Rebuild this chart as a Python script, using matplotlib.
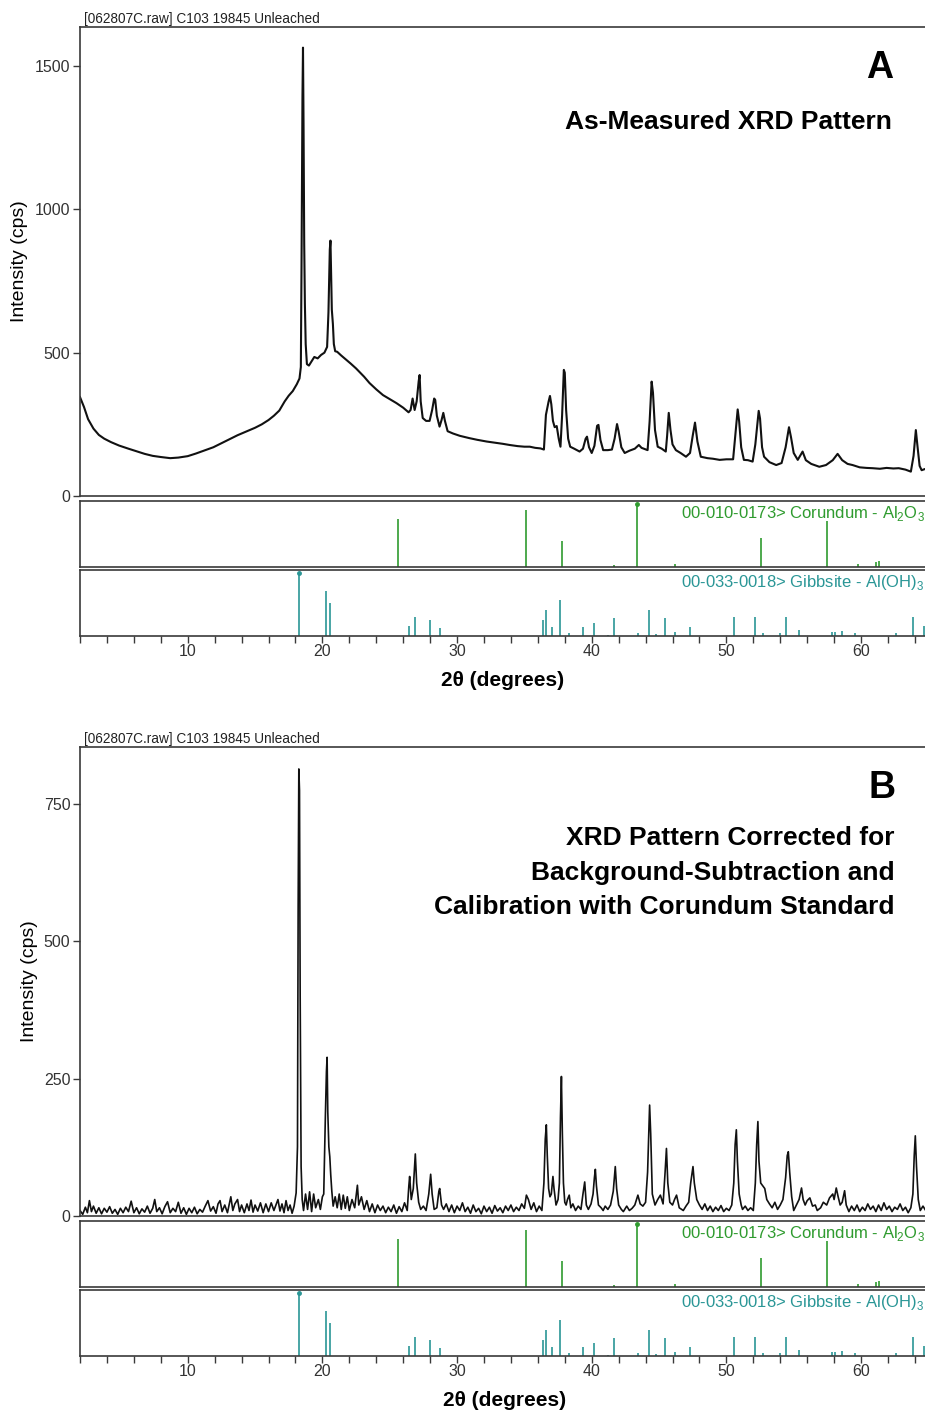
import numpy as np
import matplotlib.pyplot as plt

plt.rcParams["font.family"] = ["Liberation Sans", "DejaVu Sans"]
plt.rcParams["mathtext.fontset"] = "custom"
plt.rcParams["mathtext.rm"] = "Liberation Sans"

W, H = 925, 1416
HEADER = "[062807C.raw] C103 19845 Unleached"

# as-measured scan (2theta, cps)
scan_a = [
    (2.0, 345), (2.3, 310), (2.6, 268), (3.0, 235), (3.4, 213), (3.8, 200),
    (4.3, 188), (4.9, 176), (5.6, 165), (6.2, 156), (6.8, 147), (7.4, 140),
    (8.0, 136), (8.7, 132), (9.3, 134), (10.0, 139), (10.6, 148), (11.2, 158),
    (11.9, 170), (12.5, 184), (13.1, 198), (13.7, 212), (14.3, 224), (15.0, 238),
    (15.5, 250), (16.0, 265), (16.4, 280), (16.8, 298), (17.2, 330), (17.5, 350),
    (17.8, 366), (18.1, 390), (18.3, 410), (18.4, 450), (18.45, 800), (18.52, 1390),
    (18.56, 1564), (18.6, 1300), (18.65, 880), (18.7, 670), (18.76, 530), (18.85, 460),
    (19.0, 455), (19.2, 470), (19.4, 485), (19.65, 480), (19.9, 492), (20.15, 500),
    (20.35, 520), (20.45, 640), (20.55, 860), (20.6, 891), (20.65, 760), (20.7, 650),
    (20.78, 600), (20.85, 530), (20.95, 505), (21.1, 503), (21.4, 490), (21.7, 478),
    (22.1, 462), (22.5, 445), (23.1, 416), (23.5, 394), (24.0, 372), (24.5, 352),
    (25.0, 338), (25.5, 324), (26.0, 308), (26.4, 292), (26.55, 300), (26.7, 340),
    (26.85, 300), (27.0, 330), (27.15, 400), (27.22, 422), (27.3, 330), (27.45, 272),
    (27.7, 262), (27.96, 262), (28.15, 300), (28.3, 340), (28.38, 335), (28.5, 280),
    (28.7, 242), (28.85, 265), (28.98, 290), (29.1, 262), (29.3, 226), (29.7, 218),
    (30.2, 210), (30.9, 202), (31.5, 196), (32.2, 190), (32.8, 186), (33.4, 182),
    (33.9, 178), (34.5, 174), (35.0, 172), (35.4, 172), (35.8, 168), (36.2, 166),
    (36.45, 162), (36.6, 283), (36.8, 330), (36.9, 349), (37.0, 320), (37.12, 262),
    (37.25, 240), (37.4, 244), (37.55, 200), (37.68, 172), (37.8, 280), (37.93, 440),
    (38.0, 430), (38.1, 300), (38.25, 200), (38.4, 172), (38.7, 165), (39.1, 155),
    (39.35, 165), (39.55, 200), (39.65, 207), (39.8, 170), (40.0, 150), (40.2, 175),
    (40.4, 245), (40.5, 248), (40.65, 195), (40.85, 160), (41.2, 160), (41.5, 162),
    (41.7, 200), (41.88, 251), (42.0, 225), (42.2, 170), (42.45, 150), (42.8, 158),
    (43.2, 165), (43.5, 178), (43.7, 168), (44.15, 160), (44.3, 260), (44.45, 399),
    (44.55, 360), (44.7, 230), (44.9, 172), (45.2, 165), (45.5, 155), (45.6, 210),
    (45.72, 290), (45.85, 230), (46.0, 180), (46.25, 160), (46.6, 150), (47.0, 137),
    (47.3, 150), (47.5, 210), (47.67, 256), (47.85, 190), (48.1, 137), (48.6, 132),
    (49.0, 130), (49.5, 126), (50.0, 128), (50.5, 128), (50.7, 230), (50.84, 302),
    (50.95, 260), (51.1, 170), (51.3, 126), (51.6, 125), (51.95, 120), (52.15, 180),
    (52.4, 297), (52.5, 270), (52.65, 170), (52.8, 137), (53.2, 118), (53.7, 108),
    (54.1, 115), (54.4, 170), (54.65, 240), (54.8, 205), (55.0, 150), (55.3, 126),
    (55.66, 155), (55.9, 125), (56.3, 112), (56.9, 102), (57.4, 108), (57.9, 125),
    (58.26, 147), (58.6, 125), (59.0, 112), (59.37, 108), (59.9, 100), (60.4, 98),
    (60.85, 97), (61.4, 95), (61.9, 98), (62.4, 96), (62.8, 97), (63.3, 92),
    (63.7, 85), (63.9, 140), (64.07, 230), (64.2, 170), (64.35, 105), (64.5, 90),
    (64.8, 95),
]

# background-subtracted, calibrated scan (2theta, cps)
scan_b = [
    (2.0, 10), (2.2, 3), (2.4, 16), (2.55, 6), (2.7, 28), (2.85, 8), (3.0, 18),
    (3.2, 5), (3.4, 15), (3.6, 4), (3.8, 14), (4.0, 7), (4.2, 17), (4.4, 5),
    (4.6, 12), (4.8, 3), (5.0, 14), (5.2, 6), (5.4, 16), (5.6, 8), (5.8, 27),
    (6.0, 6), (6.2, 15), (6.4, 4), (6.6, 13), (6.8, 7), (7.0, 18), (7.2, 5),
    (7.4, 14), (7.55, 30), (7.7, 8), (7.9, 15), (8.1, 4), (8.3, 17), (8.5, 26),
    (8.7, 6), (8.9, 14), (9.1, 8), (9.3, 25), (9.5, 5), (9.7, 15), (9.9, 3),
    (10.1, 14), (10.3, 6), (10.5, 16), (10.7, 4), (10.9, 12), (11.1, 7), (11.3, 18),
    (11.5, 28), (11.7, 9), (11.9, 17), (12.1, 5), (12.25, 22), (12.4, 28), (12.55, 8),
    (12.75, 20), (12.95, 6), (13.1, 24), (13.2, 35), (13.35, 10), (13.5, 22), (13.7, 30),
    (13.85, 8), (14.0, 20), (14.2, 6), (14.4, 22), (14.55, 10), (14.7, 29), (14.85, 7),
    (15.0, 20), (15.2, 9), (15.4, 24), (15.6, 6), (15.8, 22), (16.0, 8), (16.2, 24),
    (16.4, 10), (16.55, 20), (16.7, 30), (16.85, 9), (17.0, 22), (17.15, 6), (17.3, 28),
    (17.45, 10), (17.6, 20), (17.75, 5), (17.9, 18), (18.05, 42), (18.15, 126),
    (18.2, 560), (18.25, 814), (18.3, 775), (18.35, 400), (18.42, 90), (18.5, 30),
    (18.6, 10), (18.75, 40), (18.9, 12), (19.05, 44), (19.2, 8), (19.35, 40),
    (19.5, 15), (19.7, 30), (19.85, 12), (20.0, 35), (20.1, 40), (20.22, 180),
    (20.3, 263), (20.35, 289), (20.4, 190), (20.48, 126), (20.55, 108), (20.62, 75),
    (20.7, 45), (20.8, 18), (20.95, 35), (21.1, 15), (21.25, 40), (21.4, 12),
    (21.55, 38), (21.7, 14), (21.85, 35), (22.0, 10), (22.2, 30), (22.4, 15),
    (22.6, 56), (22.7, 20), (22.9, 35), (23.1, 12), (23.3, 28), (23.5, 8),
    (23.7, 22), (23.9, 6), (24.1, 20), (24.3, 10), (24.5, 18), (24.7, 6),
    (24.9, 16), (25.1, 8), (25.3, 20), (25.5, 5), (25.7, 17), (25.9, 8),
    (26.1, 24), (26.3, 10), (26.42, 55), (26.48, 72), (26.6, 30), (26.75, 50),
    (26.9, 113), (27.0, 60), (27.15, 25), (27.3, 12), (27.5, 18), (27.7, 10),
    (27.9, 40), (28.04, 76), (28.15, 40), (28.3, 12), (28.5, 15), (28.65, 45),
    (28.71, 50), (28.85, 20), (29.0, 12), (29.2, 22), (29.4, 8), (29.6, 20),
    (29.8, 6), (30.0, 18), (30.2, 10), (30.4, 24), (30.6, 8), (30.8, 16),
    (31.0, 5), (31.2, 20), (31.4, 8), (31.6, 14), (31.8, 4), (32.0, 18),
    (32.2, 8), (32.4, 16), (32.6, 5), (32.8, 19), (33.0, 9), (33.2, 15),
    (33.4, 6), (33.6, 18), (33.8, 10), (34.0, 20), (34.2, 8), (34.4, 16),
    (34.6, 10), (34.8, 22), (35.0, 14), (35.15, 38), (35.3, 30), (35.5, 12),
    (35.7, 24), (35.9, 8), (36.1, 18), (36.3, 10), (36.45, 60), (36.55, 140),
    (36.63, 166), (36.7, 110), (36.8, 50), (36.9, 35), (37.0, 40), (37.12, 72),
    (37.2, 50), (37.35, 20), (37.5, 30), (37.6, 60), (37.68, 180), (37.75, 254),
    (37.82, 150), (37.9, 60), (38.0, 25), (38.1, 20), (38.2, 30), (38.33, 38),
    (38.45, 15), (38.6, 22), (38.8, 10), (39.0, 18), (39.2, 12), (39.35, 40),
    (39.48, 62), (39.6, 20), (39.75, 12), (39.95, 22), (40.1, 40), (40.2, 70),
    (40.27, 85), (40.35, 55), (40.5, 20), (40.7, 15), (40.85, 10), (41.0, 18),
    (41.2, 12), (41.4, 20), (41.6, 45), (41.75, 90), (41.85, 50), (42.0, 20),
    (42.2, 12), (42.35, 8), (42.6, 18), (42.8, 10), (43.0, 14), (43.2, 20),
    (43.43, 38), (43.6, 22), (43.8, 18), (44.0, 25), (44.15, 80), (44.3, 202),
    (44.38, 150), (44.5, 40), (44.7, 20), (44.9, 30), (45.1, 38), (45.3, 22),
    (45.45, 80), (45.55, 123), (45.65, 60), (45.8, 25), (46.0, 20), (46.15, 30),
    (46.3, 38), (46.5, 15), (46.8, 10), (47.0, 18), (47.2, 25), (47.35, 60),
    (47.52, 90), (47.62, 60), (47.8, 30), (48.0, 20), (48.2, 12), (48.4, 22),
    (48.6, 10), (48.8, 18), (49.0, 8), (49.2, 16), (49.4, 10), (49.6, 19),
    (49.8, 8), (50.0, 14), (50.2, 10), (50.4, 20), (50.55, 60), (50.65, 130),
    (50.74, 157), (50.82, 100), (50.95, 40), (51.1, 20), (51.2, 12), (51.4, 18),
    (51.6, 10), (51.8, 15), (52.0, 10), (52.15, 60), (52.25, 130), (52.34, 172),
    (52.42, 100), (52.55, 60), (52.7, 55), (52.85, 50), (53.0, 30), (53.2, 22),
    (53.4, 15), (53.6, 25), (53.8, 12), (54.0, 20), (54.2, 30), (54.4, 70),
    (54.52, 110), (54.6, 117), (54.7, 80), (54.85, 35), (55.0, 10), (55.2, 20),
    (55.4, 30), (55.58, 51), (55.7, 30), (55.85, 20), (56.0, 28), (56.2, 33),
    (56.4, 18), (56.6, 20), (56.75, 10), (57.0, 15), (57.2, 25), (57.45, 20),
    (57.66, 33), (57.9, 40), (58.0, 30), (58.16, 51), (58.3, 35), (58.45, 20),
    (58.6, 25), (58.78, 46), (58.9, 20), (59.1, 8), (59.3, 18), (59.5, 10),
    (59.7, 20), (59.9, 8), (60.1, 16), (60.3, 10), (60.5, 22), (60.7, 12),
    (60.9, 18), (61.1, 8), (61.3, 20), (61.5, 10), (61.7, 24), (61.9, 12),
    (62.1, 18), (62.3, 8), (62.5, 16), (62.7, 12), (62.9, 22), (63.1, 10),
    (63.3, 16), (63.5, 6), (63.7, 15), (63.85, 40), (63.95, 110), (64.03, 146),
    (64.12, 90), (64.25, 30), (64.4, 10), (64.6, 18), (64.8, 10),
]

# reference patterns (stick positions / relative intensity)
corundum_2theta = [25.58, 35.15, 37.78, 41.68, 43.36, 46.18, 52.55, 57.50, 59.74, 61.12, 61.30]
corundum_int = [77, 91, 42, 3, 100, 4, 46, 73, 5, 8, 9]

gibbsite_2theta = [18.27, 20.30, 20.55, 26.45, 26.90, 28.00, 28.72, 36.39, 36.64, 37.08,
                   37.67, 38.35, 39.35, 40.15, 41.21, 41.67, 43.41, 44.22, 44.78, 45.47,
                   46.19, 47.30, 50.58, 52.12, 52.72, 54.01, 54.45, 55.40, 57.86, 58.06,
                   58.58, 59.56, 62.58, 63.86, 64.65]
gibbsite_int = [100, 72, 52, 16, 31, 26, 13, 26, 41, 15,
                57, 4, 15, 21, 1, 29, 4, 41, 3, 29,
                7, 15, 31, 31, 5, 4, 31, 10, 7, 7,
                8, 4, 5, 31, 16]

CORUNDUM_LABEL = "00-010-0173> Corundum - Al$_\\mathregular{2}$O$_\\mathregular{3}$"
GIBBSITE_LABEL = "00-033-0018> Gibbsite - Al(OH)$_\\mathregular{3}$"

XLIM = (2.0, 64.75)
SPINE = "#3a3a3a"
TICK_TEXT = "#333333"
GREEN = "#2f9b2f"
TEAL = "#2a9696"


def box(left, top, right, bottom):
    return [left / W, 1 - bottom / H, (right - left) / W, (bottom - top) / H]


def style_frame(ax):
    for side in ["left", "top", "bottom"]:
        ax.spines[side].set_color(SPINE)
        ax.spines[side].set_linewidth(1.2)
    ax.spines["right"].set_visible(False)
    ax.set_xlim(*XLIM)


def stick_panel(fig, top, xs, hs, color, label, show_x):
    ax = fig.add_axes(box(80, top, W, top + 66))
    style_frame(ax)
    ax.vlines(xs, 0, hs, color=color, linewidth=1.2)
    imax = int(np.argmax(hs))
    ax.plot([xs[imax]], [hs[imax]], "o", color=color, markersize=2.5)
    ax.set_ylim(0, 105.5)
    ax.set_yticks([])
    ax.text(0.9995, 0.81, label, transform=ax.transAxes, ha="right", va="center",
            fontsize=12, color=color)
    if show_x:
        ax.set_xticks(range(10, 61, 10))
        ax.set_xticks(range(2, 65, 2), minor=True)
        ax.tick_params(axis="x", which="both", direction="out", length=5, width=1,
                       color=SPINE, labelsize=11.5, labelcolor=TICK_TEXT, pad=1)
    else:
        ax.set_xticks([])
    return ax


def main_panel(fig, top, scan, ylim, yticks, lw):
    ax = fig.add_axes(box(80, top, W, top + 469))
    style_frame(ax)
    tt, cps = np.array(scan).T
    ax.plot(tt, cps, color="#111111", linewidth=lw)
    ax.set_ylim(*ylim)
    ax.set_yticks(yticks)
    ax.set_xticks([])
    ax.tick_params(axis="y", direction="out", length=5, width=1, color=SPINE,
                   labelsize=11.5, labelcolor=TICK_TEXT, pad=2)
    return ax


def main():
    fig = plt.figure(figsize=(W / 100, H / 100), dpi=100)

    # ---- panel A ----
    main_panel(fig, 27, scan_a, (0, 1636), [0, 500, 1000, 1500], 1.5)
    stick_panel(fig, 501, corundum_2theta, corundum_int, GREEN, CORUNDUM_LABEL, False)
    stick_panel(fig, 570, gibbsite_2theta, gibbsite_int, TEAL, GIBBSITE_LABEL, True)

    fig.text(84 / W, 1 - 19 / H, HEADER, fontsize=9.8, color="#222222", va="center")
    fig.text(20 / W, 1 - 261 / H, "Intensity (cps)", rotation=90, fontsize=14,
             ha="center", va="center")
    fig.text(503 / W, 1 - 681 / H, "2θ (degrees)", fontsize=15, fontweight="bold",
             ha="center", va="center")
    fig.text(893 / W, 1 - 68 / H, "A", fontsize=27, fontweight="bold", ha="right", va="center")
    fig.text(892 / W, 1 - 122 / H, "As-Measured XRD Pattern", fontsize=19,
             fontweight="bold", ha="right", va="center")

    # ---- panel B ----
    main_panel(fig, 747, scan_b, (0, 854), [0, 250, 500, 750], 1.2)
    stick_panel(fig, 1221, corundum_2theta, corundum_int, GREEN, CORUNDUM_LABEL, False)
    stick_panel(fig, 1290, gibbsite_2theta, gibbsite_int, TEAL, GIBBSITE_LABEL, True)

    fig.text(84 / W, 1 - 739 / H, HEADER, fontsize=9.8, color="#222222", va="center")
    fig.text(30 / W, 1 - 981 / H, "Intensity (cps)", rotation=90, fontsize=14,
             ha="center", va="center")
    fig.text(505 / W, 1 - 1401 / H, "2θ (degrees)", fontsize=15, fontweight="bold",
             ha="center", va="center")
    fig.text(896 / W, 1 - 788 / H, "B", fontsize=27, fontweight="bold", ha="right", va="center")
    lines_b = ["XRD Pattern Corrected for",
               "Background-Subtraction and",
               "Calibration with Corundum Standard"]
    for text, y in zip(lines_b, [838, 873, 907]):
        fig.text(895 / W, 1 - y / H, text, fontsize=19, fontweight="bold",
                 ha="right", va="center")

    fig.savefig("out.png", dpi=100)
    plt.close(fig)


if __name__ == "__main__":
    main()
